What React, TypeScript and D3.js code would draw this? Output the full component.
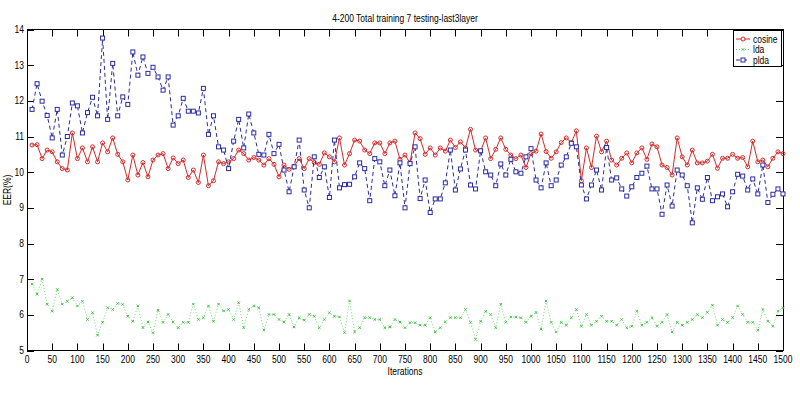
import * as d3 from 'd3';
import React, { useEffect, useRef } from 'react';

const iterations = d3.range(10, 1510, 10);

const cosine = [
  10.76, 10.77, 10.38, 10.62, 10.57, 10.29, 10.1, 10.06, 11.1, 10.38,
  10.68, 10.29, 10.71, 10.29, 10.82, 10.57, 10.96, 10.5, 10.29, 9.78,
  10.48, 9.92, 10.27, 9.87, 10.34, 10.48, 10.52, 10.1, 10.4, 10.24,
  10.34, 9.85, 10.06, 9.71, 10.48, 9.62, 9.76, 10.29, 10.24, 10.29,
  10.38, 10.62, 10.52, 10.34, 10.41, 10.34, 10.2, 10.38, 10.22, 9.87,
  10.2, 10.08, 10.17, 10.38, 10.1, 10.38, 10.27, 10.22, 10.54, 10.43,
  10.29, 10.96, 10.2, 10.52, 10.9, 10.87, 10.62, 10.52, 10.82, 10.82,
  10.52, 10.82, 10.87, 10.36, 10.48, 10.26, 11.1, 10.94, 10.5, 10.68,
  10.48, 10.68, 10.59, 10.9, 10.69, 10.85, 10.68, 11.2, 10.62, 10.59,
  10.96, 10.38, 10.64, 10.96, 10.64, 10.48, 10.38, 10.48, 10.13, 10.52,
  10.59, 11.07, 10.58, 10.39, 10.57, 10.83, 10.96, 10.83, 11.16, 9.76,
  10.68, 10.13, 11.01, 10.57, 10.87, 10.34, 10.2, 10.39, 10.54, 10.26,
  10.54, 10.68, 10.36, 10.79, 10.71, 10.2, 10.13, 9.92, 10.96, 10.43,
  10.2, 10.62, 10.26, 10.26, 10.31, 10.5, 10.11, 10.39, 10.39, 10.5,
  10.39, 10.41, 10.15, 10.87, 10.29, 10.34, 10.15, 10.39, 10.57, 10.52,
];

const lda = [
  6.86, 6.58, 7.0, 6.3, 6.1, 6.71, 6.3, 6.38, 6.48, 6.25,
  6.38, 5.87, 6.06, 5.43, 5.79, 6.2, 6.15, 6.32, 6.29, 5.96,
  5.82, 6.25, 5.64, 5.8, 5.5, 6.13, 5.79, 6.01, 5.8, 5.64,
  5.79, 5.79, 6.3, 5.87, 5.92, 6.25, 5.82, 6.3, 6.11, 6.15,
  5.87, 6.34, 5.64, 6.15, 6.25, 6.2, 5.57, 6.01, 6.01, 5.87,
  5.8, 6.01, 5.66, 5.92, 5.85, 6.01, 5.96, 5.64, 5.87, 6.06,
  5.96, 5.94, 5.5, 6.39, 5.52, 5.64, 5.92, 5.92, 5.87, 5.87,
  5.64, 5.66, 5.87, 5.8, 5.64, 5.78, 5.78, 5.71, 5.71, 5.92,
  5.52, 5.64, 5.8, 5.92, 5.92, 5.92, 6.15, 5.79, 5.31, 5.82,
  6.1, 6.01, 5.64, 6.3, 5.79, 5.94, 5.94, 5.92, 5.79, 5.96,
  6.07, 5.6, 6.39, 5.79, 5.52, 5.79, 5.71, 5.92, 6.15, 5.68,
  6.01, 5.71, 5.82, 5.96, 5.82, 5.82, 5.71, 5.87, 5.64, 5.68,
  6.1, 5.71, 5.79, 5.92, 5.68, 5.79, 6.01, 5.52, 5.79, 5.71,
  5.79, 5.87, 6.01, 5.92, 6.07, 6.27, 5.71, 5.87, 5.79, 5.92,
  6.25, 6.01, 5.79, 5.79, 5.57, 6.15, 5.82, 5.68, 6.1, 6.2,
];

const plda = [
  11.76, 12.48, 11.99, 11.59, 10.96, 11.76, 10.48, 11.0, 11.94, 11.86,
  11.1, 11.67, 12.1, 11.58, 13.76, 11.48, 13.05, 11.58, 12.11, 11.9,
  13.37, 12.72, 13.23, 12.77, 12.94, 12.67, 12.3, 12.67, 11.32, 11.58,
  12.07, 11.71, 11.71, 11.66, 12.35, 11.06, 11.58, 10.71, 10.62, 10.1,
  10.87, 11.48, 10.68, 11.63, 11.1, 10.5, 10.48, 11.06, 10.52, 10.78,
  10.06, 9.45, 10.15, 10.9, 9.5, 9.0, 10.43, 9.85, 10.15, 9.29,
  10.9, 9.56, 9.65, 9.66, 9.87, 10.26, 10.1, 9.2, 10.38, 10.29,
  9.62, 10.06, 9.34, 10.26, 9.0, 10.24, 10.71, 9.26, 9.78, 8.87,
  9.25, 9.25, 9.7, 10.62, 9.5, 10.09, 10.62, 9.64, 9.53, 10.6,
  10.01, 9.92, 9.62, 10.23, 9.92, 10.36, 10.01, 9.97, 10.43, 10.66,
  9.78, 9.56, 10.26, 9.62, 9.78, 10.2, 10.43, 10.81, 10.71, 9.64,
  9.25, 9.64, 10.06, 9.5, 10.69, 9.78, 9.84, 9.53, 9.33, 9.59,
  9.85, 9.97, 10.17, 9.53, 9.53, 8.82, 9.64, 9.05, 10.06, 9.92,
  9.62, 8.58, 9.56, 9.24, 9.85, 9.2, 9.31, 9.39, 9.03, 9.45,
  9.94, 9.89, 9.5, 9.81, 9.39, 10.2, 9.15, 9.38, 9.53, 9.39,
];

const xTicks = d3.range(0, 1550, 50);
const yTicks = d3.range(5, 15, 1);
const seriesNames = ['cosine', 'lda', 'plda'];

const FONT = "'Liberation Sans', Arial, sans-serif";
const SQUEEZE = 0.85; // the source text is horizontally condensed

const App: React.FC = () => {
  const ref = useRef<SVGSVGElement | null>(null);

  useEffect(() => {
    const width = 800;
    const height = 394;
    const left = 27;
    const right = 783;
    const top = 29.5;
    const bottom = 350.5;
    const tickLen = 7;

    const svg = d3.select(ref.current)
      .attr('width', width)
      .attr('height', height);
    svg.selectAll('*').remove();

    svg.append('rect')
      .attr('width', width).attr('height', height).attr('fill', '#fff');

    const x = d3.scaleLinear().domain([0, 1500]).range([left, right]);
    const y = d3.scaleLinear().domain([5, 14]).range([bottom, top]);

    const ax = svg.append('g').attr('stroke', '#000').attr('stroke-width', 1);

    // ticks pointing inward on all four sides
    xTicks.forEach((t) => {
      const px = Math.round(x(t)) + 0.5;
      ax.append('line').attr('x1', px).attr('x2', px).attr('y1', bottom).attr('y2', bottom - tickLen);
      ax.append('line').attr('x1', px).attr('x2', px).attr('y1', top).attr('y2', top + tickLen);
    });
    yTicks.forEach((t) => {
      const py = Math.round(y(t)) + 0.5;
      ax.append('line').attr('x1', left).attr('x2', left + tickLen).attr('y1', py).attr('y2', py);
      ax.append('line').attr('x1', right).attr('x2', right - tickLen).attr('y1', py).attr('y2', py);
    });

    svg.append('rect')
      .attr('x', left + 0.5).attr('y', top)
      .attr('width', right - left).attr('height', bottom - top)
      .attr('fill', 'none').attr('stroke', '#000');

    const txt = svg.append('g').attr('font-family', FONT).attr('font-size', 10).attr('fill', '#000');
    const label = (tx: number, ty: number, s: string | number, anchor: string, rot = 0) =>
      txt.append('text')
        .attr('transform', `translate(${tx},${ty}) rotate(${rot}) scale(${SQUEEZE},1)`)
        .attr('text-anchor', anchor)
        .text(s);

    xTicks.forEach((t) => label(x(t), bottom + 12, t, 'middle'));
    yTicks.forEach((t) => label(left - 3, y(t) + 3.5, t, 'end'));

    label((left + right) / 2, 22, '4-200 Total training 7 testing-last3layer', 'middle');
    label((left + right) / 2, bottom + 24, 'Iterations', 'middle');
    label(11, (top + bottom) / 2, 'EER(%)', 'middle', -90);

    const line = d3.line<number>()
      .x((_d, i) => x(iterations[i]))
      .y((d) => y(d));

    const plot = svg.append('g');

    // cosine: red solid, circles
    plot.append('path').datum(cosine)
      .attr('d', line).attr('fill', 'none')
      .attr('stroke', '#d42a2a').attr('stroke-width', 1);
    plot.selectAll('circle.c')
      .data(cosine)
      .enter()
      .append('circle')
      .attr('cx', (_d, i) => x(iterations[i]))
      .attr('cy', (d) => y(d))
      .attr('r', 2)
      .attr('fill', 'none')
      .attr('stroke', '#d42a2a');

    // lda: green dotted, x markers
    plot.append('path').datum(lda)
      .attr('d', line).attr('fill', 'none')
      .attr('stroke', '#6fdc6f').attr('stroke-width', 1)
      .attr('stroke-dasharray', '1,2');
    plot.selectAll('path.x')
      .data(lda)
      .enter()
      .append('path')
      .attr('d', (d, i) => {
        const cx = x(iterations[i]);
        const cy = y(d);
        return `M${cx - 1.2},${cy - 1.2}L${cx + 1.2},${cy + 1.2}M${cx - 1.2},${cy + 1.2}L${cx + 1.2},${cy - 1.2}`;
      })
      .attr('stroke', '#44c044').attr('stroke-width', 1);

    // plda: blue dashed, squares
    plot.append('path').datum(plda)
      .attr('d', line).attr('fill', 'none')
      .attr('stroke', '#2b2ba0').attr('stroke-width', 1)
      .attr('stroke-dasharray', '4,3');
    plot.selectAll('rect.s')
      .data(plda)
      .enter()
      .append('rect')
      .attr('x', (_d, i) => x(iterations[i]) - 2)
      .attr('y', (d) => y(d) - 2)
      .attr('width', 4).attr('height', 4)
      .attr('fill', '#fff')
      .attr('stroke', '#2b2ba0');

    // legend
    const lg = svg.append('g').attr('transform', 'translate(733,30)');
    lg.append('rect')
      .attr('x', 0.5).attr('y', 0.5).attr('width', 48).attr('height', 36)
      .attr('fill', '#fff').attr('stroke', '#000');
    const styles = [
      { c: '#d42a2a', dash: null, mark: 'o' },
      { c: '#6fdc6f', dash: '1,2', mark: 'x' },
      { c: '#2b2ba0', dash: '4,3', mark: 's' },
    ];
    seriesNames.forEach((name, i) => {
      const ly = 9 + i * 10.5;
      const s = styles[i];
      lg.append('line')
        .attr('x1', 3).attr('x2', 17).attr('y1', ly).attr('y2', ly)
        .attr('stroke', s.c).attr('stroke-dasharray', s.dash);
      if (s.mark === 'o') {
        lg.append('circle').attr('cx', 10).attr('cy', ly).attr('r', 2)
          .attr('fill', '#fff').attr('stroke', s.c);
      } else if (s.mark === 's') {
        lg.append('rect').attr('x', 8).attr('y', ly - 2).attr('width', 4).attr('height', 4)
          .attr('fill', '#fff').attr('stroke', s.c);
      } else {
        lg.append('path')
          .attr('d', `M8.8,${ly - 1.2}L11.2,${ly + 1.2}M8.8,${ly + 1.2}L11.2,${ly - 1.2}`)
          .attr('stroke', '#44c044');
      }
      lg.append('text')
        .attr('transform', `translate(20,${ly + 3.5}) scale(${SQUEEZE},1)`)
        .attr('font-family', FONT).attr('font-size', 10)
        .text(name);
    });
  }, []);

  return (
    <svg ref={ref} style={{ position: 'absolute', left: 0, top: 0, display: 'block' }}></svg>
  );
};

export default App;
